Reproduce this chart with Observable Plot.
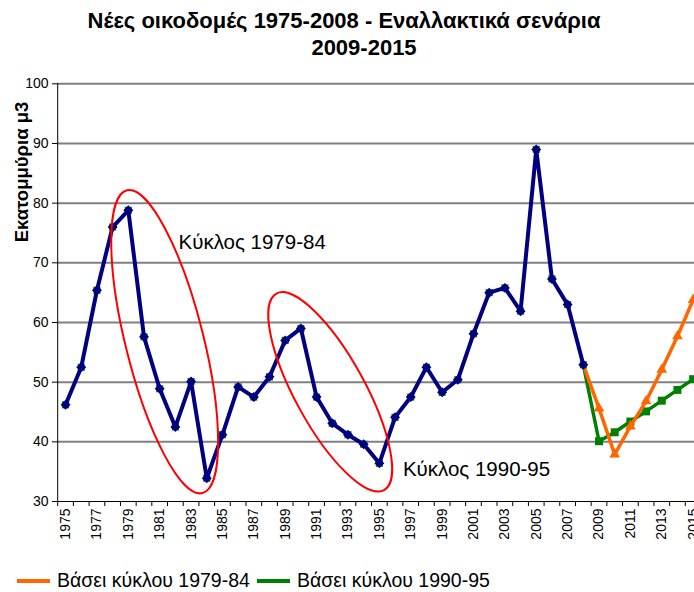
<!DOCTYPE html>
<html>
<head>
<meta charset="utf-8">
<script src="https://cdn.jsdelivr.net/npm/d3@7"></script>
<script src="https://cdn.jsdelivr.net/npm/@observablehq/plot@0.6"></script>
<style>
  html, body { margin: 0; padding: 0; background: white; }
  #wrap { position: relative; width: 694px; height: 592px; overflow: hidden; font-family: "Liberation Sans", Arial, sans-serif; color: #000; }
  #wrap svg { position: absolute; left: 0; top: 0; }
  .abs { position: absolute; white-space: nowrap; line-height: 1; }
  .title { font-weight: bold; font-size: 22px; transform: translate(-50%, -50%); }
  .ylab { font-weight: bold; font-size: 18.5px; transform: translate(-50%, -50%) rotate(-90deg); }
  .leg { font-size: 19.5px; transform: translateY(-50%); }
  .sw { position: absolute; width: 33px; height: 4px; transform: translateY(-50%); }
</style>
</head>
<body>
<div id="wrap"></div>
<script>
// ---- data ----
const histYears = [1975,1976,1977,1978,1979,1980,1981,1982,1983,1984,1985,1986,1987,1988,1989,1990,1991,1992,1993,1994,1995,1996,1997,1998,1999,2000,2001,2002,2003,2004,2005,2006,2007,2008];
const histValues = [46.2,52.5,65.4,76.0,78.8,57.6,48.9,42.5,50.1,33.9,41.2,49.2,47.5,50.9,57.0,59.0,47.5,43.1,41.2,39.6,36.4,44.1,47.5,52.5,48.3,50.4,58.1,65.0,65.8,61.9,89.0,67.3,63.0,52.9];
const scenYears = [2008,2009,2010,2011,2012,2013,2014,2015];
const scenA = [52.9,45.6,37.9,42.6,46.8,52.1,57.7,63.8];   // Βάσει κύκλου 1979-84
const scenB = [52.9,40.1,41.6,43.4,45.1,46.9,48.7,50.5];   // Βάσει κύκλου 1990-95
const yTicks = [30,40,50,60,70,80,90,100];
const xLabelYears = [1975,1977,1979,1981,1983,1985,1987,1989,1991,1993,1995,1997,1999,2001,2003,2005,2007,2009,2011,2013,2015];
const seriesNames = ["Βάσει κύκλου 1979-84", "Βάσει κύκλου 1990-95"];
const titleLines = ["Νέες οικοδομές 1975-2008 - Εναλλακτικά σενάρια", "2009-2015"];
const yLabel = "Εκατομμύρια μ3";
const notes = [
  {year: 1982.2, value: 73.4, text: "Κύκλος 1979-84"},
  {year: 1996.5, value: 35.4, text: "Κύκλος 1990-95"}
];
const cycles = [
  {year: 1981.35, value: 56.7, rx: 39, ry: 156, angle: -14},
  {year: 1991.9, value: 48.3, rx: 35, ry: 112, angle: -28.7}
];

const hist = histYears.map((y, i) => ({year: y, value: histValues[i]}));
const sa = scenYears.map((y, i) => ({year: y, value: scenA[i]}));
const sb = scenYears.map((y, i) => ({year: y, value: scenB[i]}));
const boundaries = [...histYears, ...scenYears.slice(1)].map(y => y - 0.5).concat([2015.5]);

const NAVY = "#000080", ORANGE = "#FF6600", GREEN = "#008000";

const plot = Plot.plot({
  width: 694, height: 592,
  marginLeft: 57, marginRight: 0, marginTop: 83, marginBottom: 91,
  x: {domain: [1974.5, 2015.5], range: [57.2, 700.5]},
  y: {domain: [30, 100], range: [501, 83.3]},
  style: {fontFamily: "'Liberation Sans', Arial, sans-serif", background: "transparent", color: "#000"},
  marks: [
    Plot.gridY(yTicks.filter(v => v > 30), {stroke: "#808080", strokeOpacity: 1, strokeWidth: 2}),
    Plot.axisY({ticks: yTicks, tickSize: 5, tickPadding: 4, fontSize: 14, label: null, stroke: "#000", tickFormat: d => String(d)}),
    Plot.axisX({ticks: boundaries, tickSize: 5, text: null, label: null, stroke: "#000"}),
    Plot.axisX({ticks: xLabelYears, tickSize: 0, tickPadding: 7, tickRotate: -90, fontSize: 14, label: null, tickFormat: d => String(d)}),
    Plot.ruleX([1974.5], {stroke: "#000", strokeWidth: 1}),
    Plot.ruleY([30], {stroke: "#000", strokeWidth: 1}),
    // scenario B (green)
    Plot.line(sb, {x: "year", y: "value", stroke: GREEN, strokeWidth: 3.5}),
    Plot.dot(sb.slice(1), {x: "year", y: "value", symbol: "square", r: 4.5, fill: GREEN}),
    // scenario A (orange)
    Plot.line(sa, {x: "year", y: "value", stroke: ORANGE, strokeWidth: 3.5}),
    Plot.dot(sa.slice(1), {x: "year", y: "value", symbol: "triangle", r: 4, fill: ORANGE}),
    // historical
    Plot.dot(hist, {x: "year", y: "value", symbol: "square", r: 4, fill: GREEN}),
    Plot.line(hist, {x: "year", y: "value", stroke: NAVY, strokeWidth: 4}),
    Plot.dot(hist, {x: "year", y: "value", symbol: "diamond2", r: 4.5, fill: NAVY}),
    // annotations
    Plot.text(notes, {x: "year", y: "value", text: "text", textAnchor: "start", fontSize: 20.5, fill: "#000"})
  ]
});

const xs = plot.scale("x"), ys = plot.scale("y");
const svg = d3.select(plot);
svg.attr("overflow", "hidden");
for (const c of cycles) {
  const cx = xs.apply(c.year), cy = ys.apply(c.value);
  svg.append("ellipse")
    .attr("cx", 0).attr("cy", 0).attr("rx", c.rx).attr("ry", c.ry)
    .attr("transform", `translate(${cx},${cy}) rotate(${c.angle})`)
    .attr("fill", "none").attr("stroke", "#FF0000").attr("stroke-width", 2);
}

const wrap = document.getElementById("wrap");
wrap.appendChild(plot);

function addDiv(cls, text, left, top) {
  const d = document.createElement("div");
  d.className = "abs " + cls;
  d.textContent = text;
  d.style.left = left + "px";
  d.style.top = top + "px";
  wrap.appendChild(d);
  return d;
}
addDiv("title", titleLines[0], 344, 21);
addDiv("title", titleLines[1], 364, 48);
addDiv("ylab", yLabel, 22, 172);

const legColors = [ORANGE, GREEN];
const legX = [17, 257];
seriesNames.forEach((n, i) => {
  const s = document.createElement("div");
  s.className = "sw";
  s.style.left = legX[i] + "px";
  s.style.top = "581px";
  s.style.background = legColors[i];
  wrap.appendChild(s);
  addDiv("leg", n, legX[i] + 40, 581);
});
</script>
</body>
</html>
